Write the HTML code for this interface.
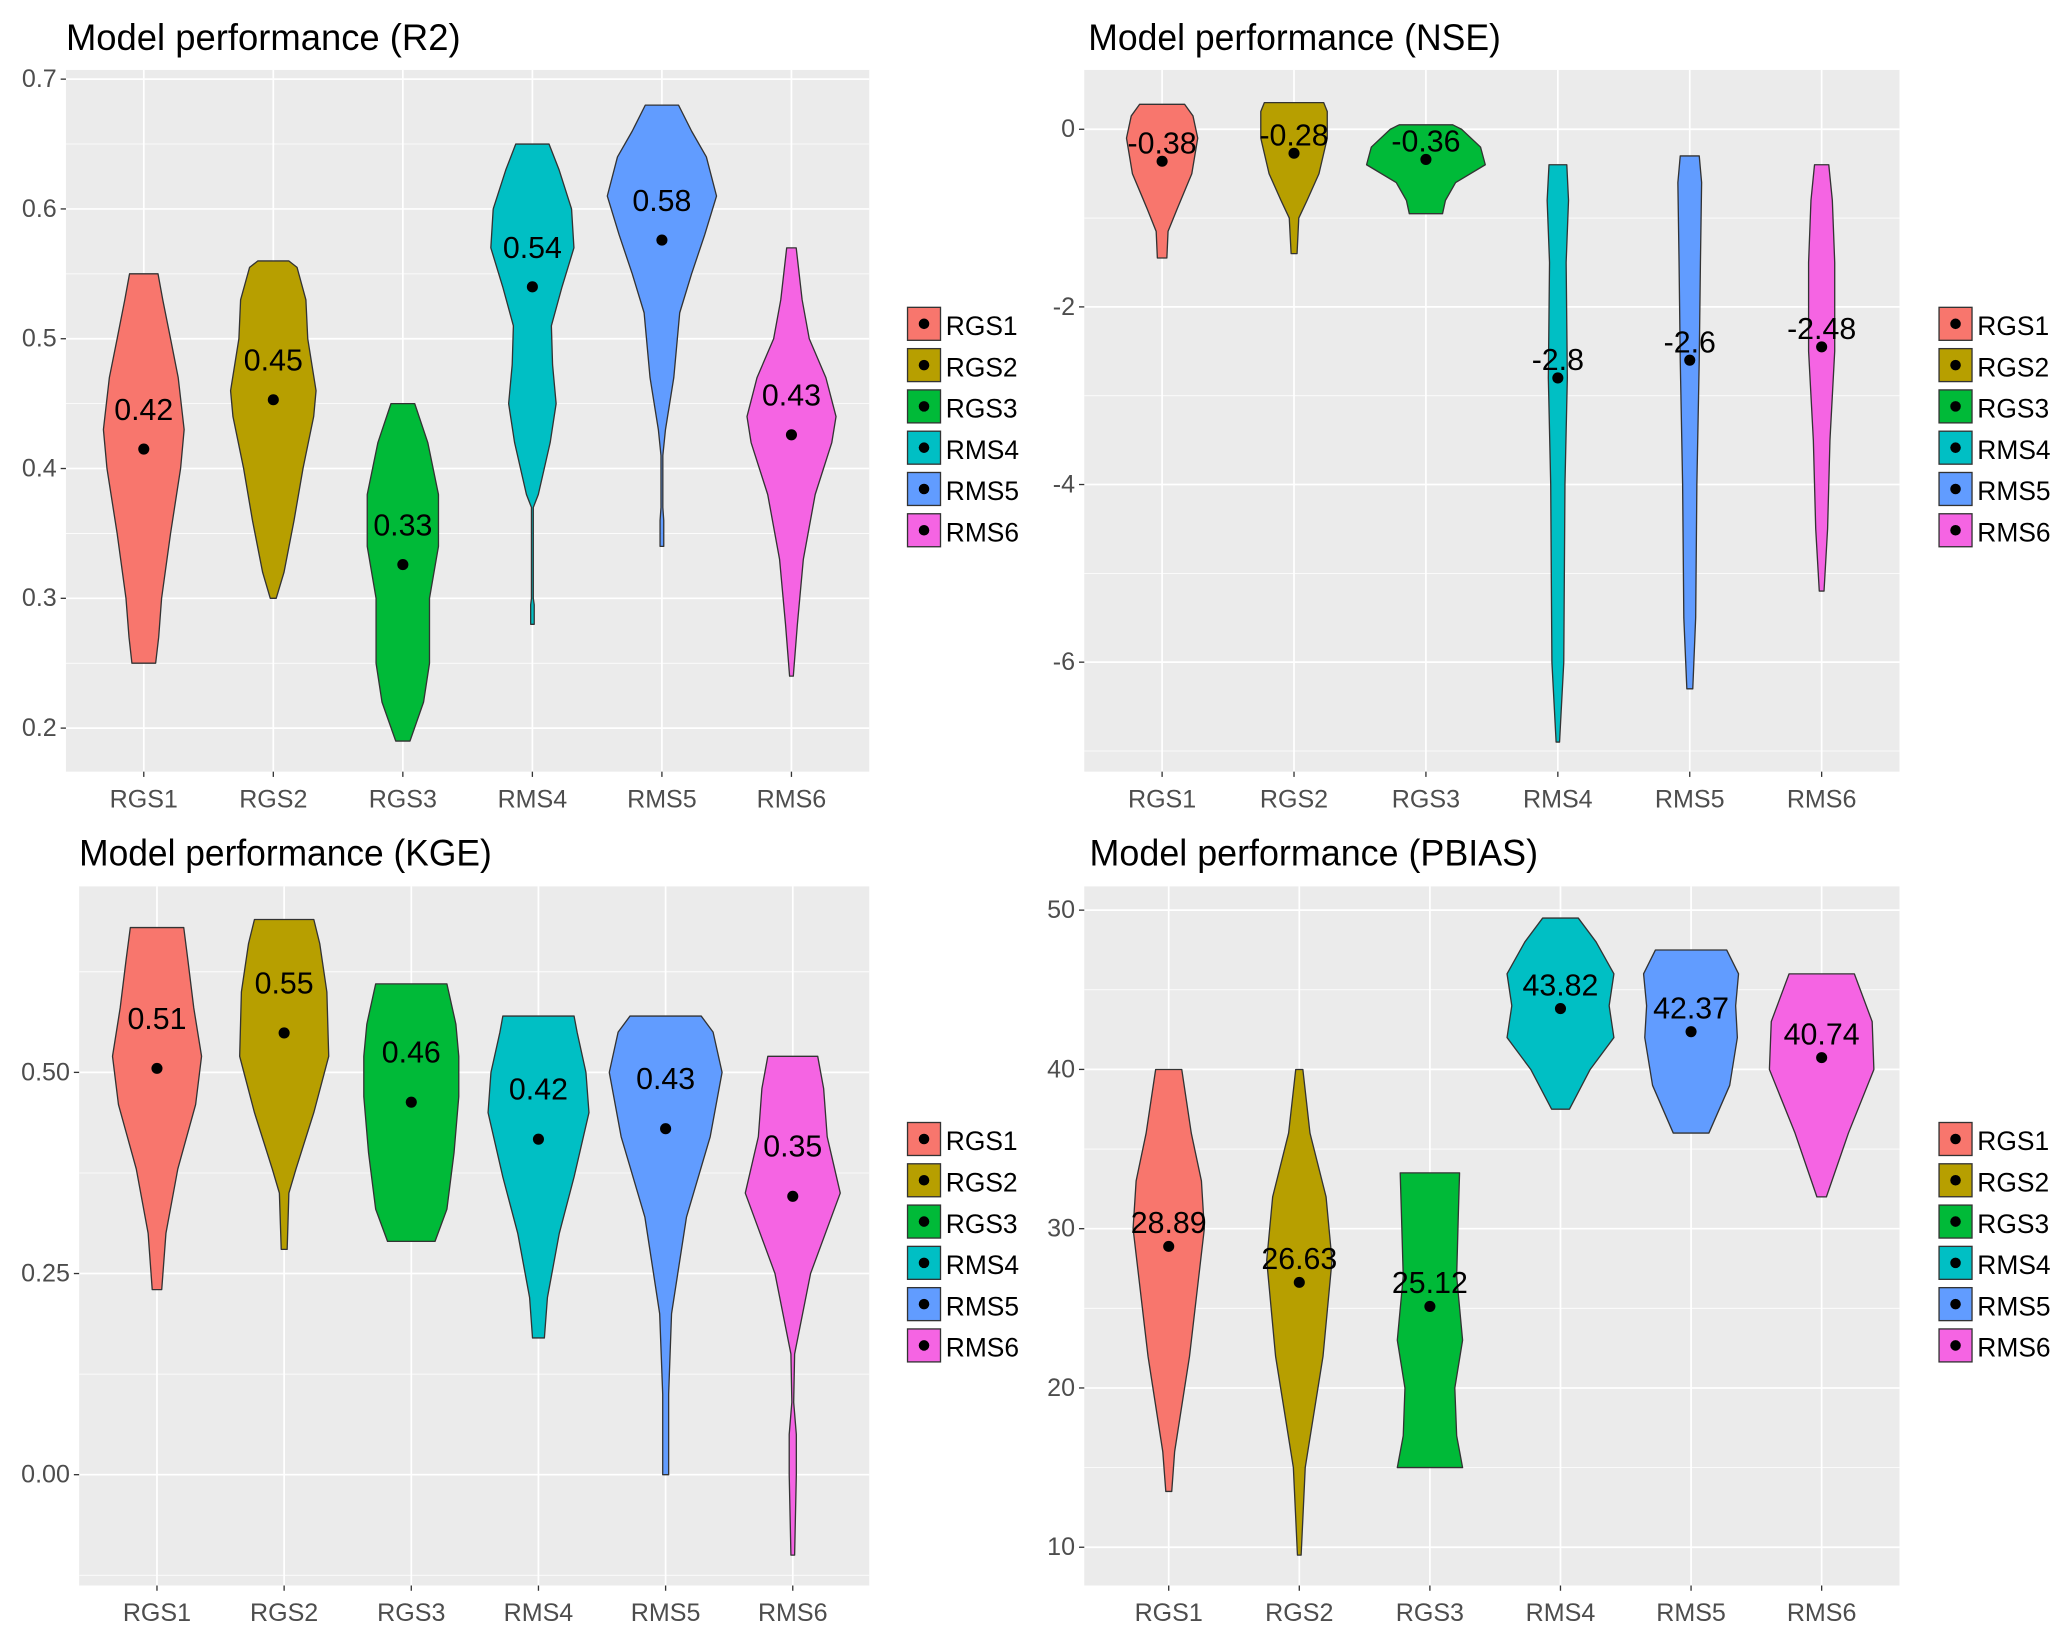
<!DOCTYPE html>
<html><head><meta charset="utf-8">
<style>
html,body{margin:0;padding:0;background:#fff;}
svg{display:block;}
text{font-family:"Liberation Sans",sans-serif;}
</style></head>
<body>
<svg id="chart" width="2067" height="1643" viewBox="0 0 1567 1245.6" preserveAspectRatio="none" xmlns="http://www.w3.org/2000/svg"></svg>
<script>
const categories = ["RGS1","RGS2","RGS3","RMS4","RMS5","RMS6"];
const colors = ["#F8766D","#B79F00","#00BA38","#00BFC4","#619CFF","#F564E3"];

// R2 panel
const r2Means = [0.415,0.453,0.326,0.540,0.576,0.426];
const r2Labels = ["0.42","0.45","0.33","0.54","0.58","0.43"];
const r2Ticks = [0.2,0.3,0.4,0.5,0.6,0.7];
const r2TickLabels = ["0.2","0.3","0.4","0.5","0.6","0.7"];
const r2Density = [
 [[0.25,0.2],[0.27,0.25],[0.3,0.3],[0.35,0.45],[0.4,0.62],[0.43,0.68],[0.47,0.58],[0.5,0.45],[0.53,0.32],[0.55,0.24]],
 [[0.30,0.05],[0.32,0.18],[0.36,0.35],[0.40,0.5],[0.44,0.68],[0.46,0.72],[0.50,0.58],[0.53,0.55],[0.555,0.4],[0.56,0.26]],
 [[0.19,0.12],[0.22,0.35],[0.25,0.45],[0.30,0.45],[0.34,0.6],[0.38,0.6],[0.42,0.42],[0.45,0.2]],
 [[0.28,0.03],[0.295,0.03],[0.30,0.015],[0.37,0.015],[0.38,0.1],[0.42,0.3],[0.45,0.4],[0.48,0.34],[0.51,0.32],[0.54,0.5],[0.57,0.7],[0.60,0.66],[0.63,0.45],[0.65,0.28]],
 [[0.34,0.03],[0.36,0.03],[0.37,0.015],[0.41,0.015],[0.43,0.06],[0.47,0.2],[0.52,0.3],[0.55,0.5],[0.58,0.72],[0.61,0.92],[0.64,0.75],[0.66,0.5],[0.68,0.28]],
 [[0.24,0.03],[0.28,0.1],[0.33,0.2],[0.38,0.4],[0.42,0.68],[0.44,0.75],[0.47,0.58],[0.5,0.3],[0.53,0.18],[0.57,0.08]]
];

// NSE panel
const nseMeans = [-0.36,-0.27,-0.34,-2.8,-2.6,-2.45];
const nseLabels = ["-0.38","-0.28","-0.36","-2.8","-2.6","-2.48"];
const nseTicks = [-6,-4,-2,0];
const nseTickLabels = ["-6","-4","-2","0"];
const nseDensity = [
 [[-1.45,0.08],[-1.15,0.1],[-0.9,0.25],[-0.5,0.5],[-0.1,0.6],[0.15,0.52],[0.28,0.38]],
 [[-1.4,0.05],[-1.0,0.08],[-0.8,0.22],[-0.5,0.42],[-0.1,0.56],[0.2,0.56],[0.3,0.5]],
 [[-0.95,0.28],[-0.8,0.33],[-0.6,0.5],[-0.4,1.0],[-0.2,0.92],[0.0,0.6],[0.05,0.45]],
 [[-6.9,0.03],[-6.0,0.1],[-4.0,0.12],[-2.8,0.16],[-1.5,0.14],[-0.8,0.18],[-0.4,0.15]],
 [[-6.3,0.05],[-5.5,0.1],[-4.0,0.12],[-2.6,0.16],[-1.5,0.18],[-0.6,0.2],[-0.3,0.16]],
 [[-5.2,0.04],[-4.5,0.1],[-3.5,0.14],[-2.5,0.22],[-1.5,0.22],[-0.8,0.18],[-0.4,0.12]]
];

// KGE panel
const kgeMeans = [0.505,0.549,0.463,0.417,0.430,0.346];
const kgeLabels = ["0.51","0.55","0.46","0.42","0.43","0.35"];
const kgeTicks = [0.0,0.25,0.5];
const kgeTickLabels = ["0.00","0.25","0.50"];
const kgeDensity = [
 [[0.23,0.08],[0.3,0.15],[0.38,0.35],[0.46,0.65],[0.52,0.75],[0.58,0.62],[0.64,0.52],[0.68,0.45]],
 [[0.28,0.05],[0.35,0.08],[0.38,0.2],[0.45,0.5],[0.52,0.75],[0.6,0.72],[0.66,0.6],[0.69,0.5]],
 [[0.29,0.4],[0.33,0.6],[0.40,0.72],[0.47,0.8],[0.52,0.8],[0.56,0.75],[0.61,0.6]],
 [[0.17,0.1],[0.22,0.15],[0.3,0.35],[0.37,0.6],[0.45,0.85],[0.50,0.8],[0.55,0.65],[0.57,0.6]],
 [[0.0,0.05],[0.1,0.05],[0.2,0.1],[0.32,0.35],[0.42,0.75],[0.5,0.95],[0.55,0.8],[0.57,0.6]],
 [[-0.1,0.03],[0.0,0.06],[0.05,0.06],[0.09,0.015],[0.15,0.03],[0.25,0.3],[0.35,0.8],[0.42,0.58],[0.48,0.52],[0.52,0.42]]
];

// PBIAS panel
const pbMeans = [28.89,26.63,25.12,43.82,42.37,40.74];
const pbLabels = ["28.89","26.63","25.12","43.82","42.37","40.74"];
const pbTicks = [10,20,30,40,50];
const pbTickLabels = ["10","20","30","40","50"];
const pbDensity = [
 [[13.5,0.05],[16,0.1],[22,0.35],[30,0.6],[33,0.55],[36,0.38],[38,0.3],[40,0.22]],
 [[9.5,0.03],[15,0.1],[22,0.4],[28,0.55],[32,0.45],[36,0.18],[40,0.06]],
 [[15,0.55],[17,0.45],[20,0.42],[23,0.55],[27,0.45],[31,0.48],[33.5,0.5]],
 [[37.5,0.15],[40,0.5],[42,0.9],[44,0.82],[46,0.9],[48,0.6],[49.5,0.3]],
 [[36,0.3],[39,0.65],[42,0.78],[44,0.75],[46,0.8],[47.5,0.6]],
 [[32,0.08],[36,0.45],[40,0.88],[43,0.85],[46,0.55]]
];

const NS = "http://www.w3.org/2000/svg";
const svg = document.getElementById("chart");
function mk(tag, attrs, parent){
  const e = document.createElementNS(NS, tag);
  for (const k in attrs) e.setAttribute(k, attrs[k]);
  (parent||svg).appendChild(e);
  return e;
}

const panels = [
 {key:"r2", title:"Model performance (R2)", tx:50, ty:38, x0:50, x1:659, y0:53, y1:585, vA:0.7, pA:60, vB:0.2, pB:552, ticks:r2Ticks, tlab:r2TickLabels, means:r2Means, labels:r2Labels, dens:r2Density, xs0:109, dx:98.2, halfMax:45, lo:30, legY:246},
 {key:"nse", title:"Model performance (NSE)", tx:825, ty:38, x0:822, x1:1440, y0:53, y1:585, vA:0, pA:98, vB:-6, pB:502, ticks:nseTicks, tlab:nseTickLabels, means:nseMeans, labels:nseLabels, dens:nseDensity, xs0:881, dx:100, halfMax:45, lo:14, legY:246, legX:1470},
 {key:"kge", title:"Model performance (KGE)", tx:60, ty:656, x0:60, x1:659, y0:672, y1:1202, vA:0.5, pA:813, vB:0.0, pB:1118, ticks:kgeTicks, tlab:kgeTickLabels, means:kgeMeans, labels:kgeLabels, dens:kgeDensity, xs0:119, dx:96.4, halfMax:45, lo:38, legY:864},
 {key:"pbias", title:"Model performance (PBIAS)", tx:826, ty:656, x0:822, x1:1440, y0:672, y1:1202, vA:50, pA:690, vB:10, pB:1173, ticks:pbTicks, tlab:pbTickLabels, means:pbMeans, labels:pbLabels, dens:pbDensity, xs0:886, dx:99, halfMax:45, lo:18, legY:864, legX:1470}
];

panels.forEach(p=>{
  const g = mk("g", {});
  
  
  const yS = v => p.pA + (v - p.vA) * (p.pB - p.pA) / (p.vB - p.vA);
  const xS = i => p.xs0 + i * p.dx;

  const t = mk("text", {x:p.tx, y:p.ty, "font-size":28, fill:"#000", textLength: p.title.length*13.6, lengthAdjust:"spacingAndGlyphs"}, g);
  t.textContent = p.title;
  
  

  const bg = mk("rect", {x:p.x0, y:p.y0, width:p.x1-p.x0, height:p.y1-p.y0, fill:"#EBEBEB"}, g);
  
  

  // minor grid
  for (let k=0;k<p.ticks.length-1;k++){
    const mv = (p.ticks[k]+p.ticks[k+1])/2;
    mk("line",{x1:p.x0,x2:p.x1,y1:yS(mv),y2:yS(mv),stroke:"#fff","stroke-width":0.6},g);
  }
  const step = p.ticks[1]-p.ticks[0];
  [p.ticks[0]-step/2, p.ticks[p.ticks.length-1]+step/2].forEach(mv=>{
    const yy=yS(mv); if (yy>p.y0 && yy<p.y1) mk("line",{x1:p.x0,x2:p.x1,y1:yy,y2:yy,stroke:"#fff","stroke-width":0.6},g);
  });
  // major grid + y ticks
  p.ticks.forEach((v,k)=>{
    const yy = yS(v);
    mk("line",{x1:p.x0,x2:p.x1,y1:yy,y2:yy,stroke:"#fff","stroke-width":1.3},g);
    mk("line",{x1:p.x0-4,x2:p.x0,y1:yy,y2:yy,stroke:"#333","stroke-width":1},g);
    const tl = mk("text",{x:p.x0-7,y:yy+6,"font-size":19,fill:"#4d4d4d","text-anchor":"end"},g);
    tl.textContent = p.tlab[k];
    
    
  });
  categories.forEach((c,i)=>{
    const xx = xS(i);
    mk("line",{x1:xx,x2:xx,y1:p.y0,y2:p.y1,stroke:"#fff","stroke-width":1.3},g);
    mk("line",{x1:xx,x2:xx,y1:p.y1,y2:p.y1+4,stroke:"#333","stroke-width":1},g);
    const xl = mk("text",{x:xx,y:p.y1+27,"font-size":19,fill:"#4d4d4d","text-anchor":"middle"},g);
    xl.textContent = c;
    
    
  });

  // violins
  categories.forEach((c,i)=>{
    const d = p.dens[i], cx = xS(i);
    let right = d.map(pt=>[cx + pt[1]*p.halfMax, yS(pt[0])]);
    let left = d.slice().reverse().map(pt=>[cx - pt[1]*p.halfMax, yS(pt[0])]);
    const pts = right.concat(left);
    const dstr = "M" + pts.map(q=>q[0].toFixed(1)+","+q[1].toFixed(1)).join("L") + "Z";
    const v = mk("path",{d:dstr, fill:colors[i], stroke:"#333","stroke-width":1,"stroke-linejoin":"round"},g);
    
    
  });
  // means + labels
  categories.forEach((c,i)=>{
    const cx = xS(i), cy = yS(p.means[i]);
    const dot = mk("circle",{cx:cx, cy:cy, r:4.2, fill:"#000"},g);
    
    
    const lb = mk("text",{x:cx, y:cy - p.lo + 8, "font-size":23, fill:"#000", "text-anchor":"middle"},g);
    lb.textContent = p.labels[i];
    
    
  });

  // legend
  const lx = p.legX || 688;
  categories.forEach((c,i)=>{
    const ly = p.legY + i*31.3;
    const key = mk("rect",{x:lx, y:ly-13, width:25, height:25, fill:colors[i], stroke:"#333","stroke-width":1},g);
    
    
    mk("circle",{cx:lx+12.5, cy:ly-0.5, r:4, fill:"#000"},g);
    const lt = mk("text",{x:lx+29, y:ly+8, "font-size":20, fill:"#000"},g);
    lt.textContent = c;
    
    
  });
});
</script>
</body></html>
